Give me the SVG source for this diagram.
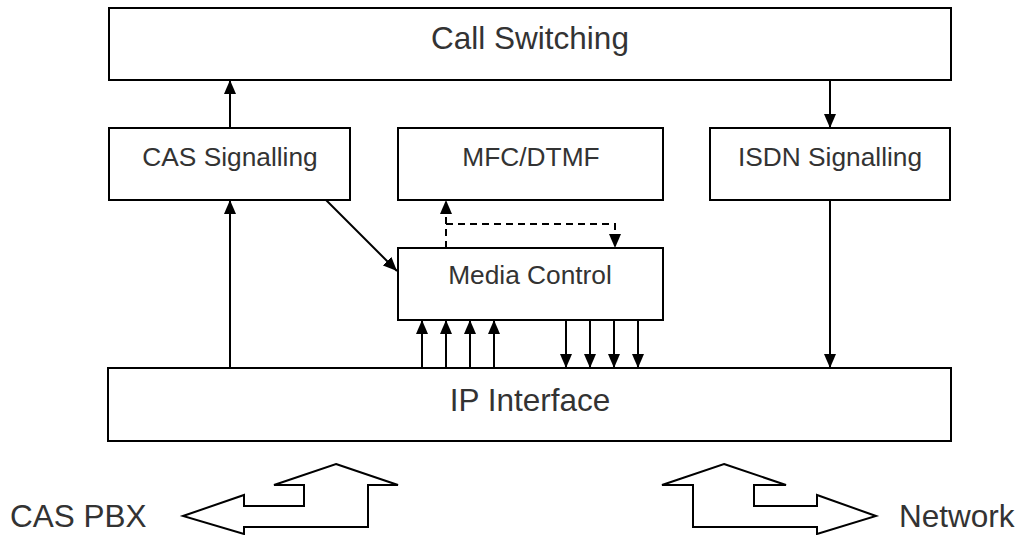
<svg xmlns="http://www.w3.org/2000/svg" width="1018" height="535" viewBox="0 0 1018 535">
  <style>
    .box { fill: #ffffff; stroke: #000000; stroke-width: 2; }
    .lbl { font-family: "Liberation Sans", Arial, sans-serif; fill: #333333; text-anchor: middle; }
    .big { font-size: 31.5px; }
    .small { font-size: 26.3px; }
    .start { text-anchor: start; }
    .wire { fill: none; stroke: #000000; stroke-width: 2; }
    .dash { stroke-dasharray: 7 5; }
    .port { fill: #ffffff; stroke: #000000; stroke-width: 2; stroke-linejoin: miter; }
  </style>
  <defs>
    <marker id="head" viewBox="0 0 14 12" refX="14" refY="6" markerWidth="14" markerHeight="12" markerUnits="userSpaceOnUse" orient="auto">
      <path d="M0,0 L14,6 L0,12 Z" fill="#000000"/>
    </marker>
  </defs>
  <rect width="1018" height="535" fill="#ffffff"/>

  <g id="call-switching">
    <rect class="box" x="109" y="8" width="842" height="72"/>
    <text class="lbl big" x="530" y="49">Call Switching</text>
  </g>
  <g id="cas-signalling">
    <rect class="box" x="109" y="128" width="241" height="72"/>
    <text class="lbl small" x="230" y="166">CAS Signalling</text>
  </g>
  <g id="mfc-dtmf">
    <rect class="box" x="398" y="128" width="265" height="72"/>
    <text class="lbl small" x="531" y="166">MFC/DTMF</text>
  </g>
  <g id="isdn-signalling">
    <rect class="box" x="710" y="128" width="240" height="72"/>
    <text class="lbl small" x="830" y="166">ISDN Signalling</text>
  </g>
  <g id="media-control">
    <rect class="box" x="398" y="248" width="265" height="72"/>
    <text class="lbl small" x="530" y="284">Media Control</text>
  </g>
  <g id="ip-interface">
    <rect class="box" x="108" y="368" width="843" height="73"/>
    <text class="lbl big" x="530" y="411">IP Interface</text>
  </g>

  <g id="connectors">
    <line class="wire" x1="230" y1="128" x2="230" y2="80" marker-end="url(#head)"/>
    <line class="wire" x1="830" y1="80" x2="830" y2="128" marker-end="url(#head)"/>
    <line class="wire" x1="230" y1="368" x2="230" y2="200" marker-end="url(#head)"/>
    <line class="wire" x1="830" y1="200" x2="830" y2="368" marker-end="url(#head)"/>
    <line class="wire" x1="326" y1="200" x2="397" y2="271" marker-end="url(#head)"/>
    <line class="wire dash" x1="446" y1="248" x2="446" y2="200" marker-end="url(#head)"/>
    <polyline class="wire dash" points="446,224 615,224 615,248" marker-end="url(#head)"/>
    <line class="wire" x1="422" y1="368" x2="422" y2="320" marker-end="url(#head)"/>
    <line class="wire" x1="446" y1="368" x2="446" y2="320" marker-end="url(#head)"/>
    <line class="wire" x1="470" y1="368" x2="470" y2="320" marker-end="url(#head)"/>
    <line class="wire" x1="494" y1="368" x2="494" y2="320" marker-end="url(#head)"/>
    <line class="wire" x1="566" y1="320" x2="566" y2="368" marker-end="url(#head)"/>
    <line class="wire" x1="590" y1="320" x2="590" y2="368" marker-end="url(#head)"/>
    <line class="wire" x1="614" y1="320" x2="614" y2="368" marker-end="url(#head)"/>
    <line class="wire" x1="638" y1="320" x2="638" y2="368" marker-end="url(#head)"/>
  </g>

  <g id="cas-pbx-port">
    <polygon class="port" points="336,464 398,485 368,485 368,527 244,527 244,534 183,516 244,495 244,506 304,506 304,485 274,485"/>
    <text class="lbl big start" x="10" y="527">CAS PBX</text>
  </g>
  <g id="network-port">
    <polygon class="port" points="724,464 786,485 754,485 754,506 817,506 817,495 876,516 817,534 817,527 693,527 693,485 662,485"/>
    <text class="lbl big start" x="899" y="527">Network</text>
  </g>
</svg>
